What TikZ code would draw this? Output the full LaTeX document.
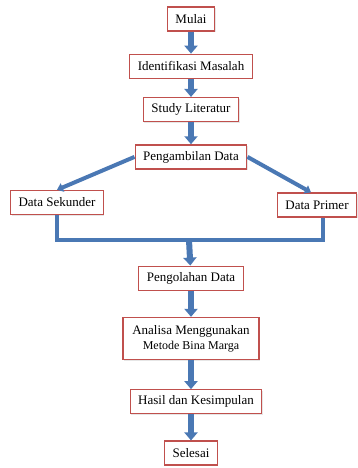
\documentclass[tikz,border=0pt]{standalone}
\usepackage{fontspec}
\setmainfont{Liberation Serif}
\usetikzlibrary{arrows.meta,positioning,shadows}
\definecolor{BoxRed}{RGB}{192,80,77}
\definecolor{FlowBlue}{RGB}{74,120,180}
\tikzset{
  stage/.style={draw=BoxRed,fill=white,line width=1.3pt,minimum height=24pt,
    inner xsep=8pt,align=center,font=\fontsize{13}{15}\selectfont,
    drop shadow={opacity=0.2,shadow xshift=1pt,shadow yshift=-1pt}},
  flow/.style={-{Triangle[width=13pt,length=8pt]},line width=6pt,FlowBlue},
  branch/.style={-{Triangle[width=9pt,length=6pt]},line width=4pt,FlowBlue},
  bus/.style={line width=3.5pt,FlowBlue}
}

\begin{document}
\begin{tikzpicture}[x=1pt,y=1pt]
      \useasboundingbox (0,0) rectangle (358,-468);
      \node[stage] (mulai) at (191,-19) {Mulai};
      \node[stage,below=22pt of mulai] (ident) {Identifikasi Masalah};
      \node[stage,below=18pt of ident] (study) {Study Literatur};
      \node[stage,below=22pt of study] (ambil) {Pengambilan Data};
      \node[stage] (sekunder) at (57,-202.5) {Data Sekunder};
      \node[stage] (primer) at (317,-205) {Data Primer};
      \node[stage,below=96pt of ambil] (olah) {Pengolahan Data};
      \node[stage,below=26pt of olah,minimum height=42pt,minimum width=136pt]
        (analisa)
        {Analisa Menggunakan\\{\fontsize{12}{14}\selectfont Metode Bina Marga}};
      \node[stage,below=29pt of analisa,xshift=5pt] (hasil) {Hasil dan Kesimpulan};
      \node[stage,below=26pt of hasil,xshift=-5pt] (selesai) {Selesai};
      \coordinate (join) at (189,-240);

      \draw[flow] (mulai) -- (ident);
      \draw[flow] (ident) -- (study);
      \draw[flow] (study) -- (ambil);
      \draw[branch] (ambil.west) -- (sekunder.north);
      \draw[branch] (ambil.east) -- ([xshift=-6pt]primer.north);
      \draw[bus] (sekunder.south) |- (join) -| ([xshift=6pt]primer.south);
      \draw[flow] (join) -- (olah);
      \draw[flow] (olah) -- (analisa);
      \draw[flow] (analisa) -- (analisa |- hasil.north);
      \draw[flow] (hasil.south -| selesai) -- (selesai);
    \end{tikzpicture}
\end{document}
